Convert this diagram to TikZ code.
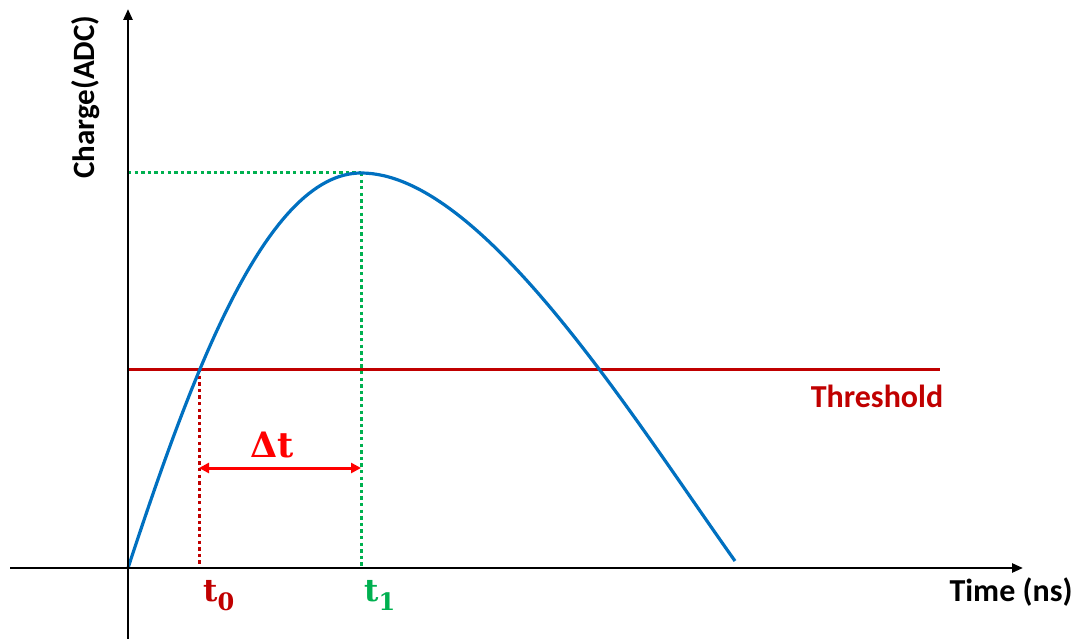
\documentclass[tikz,border=0pt]{standalone}
\usepackage{fontspec}
\setmainfont{Carlito}
\newfontfamily\lblserif{DejaVu Serif}
\usetikzlibrary{arrows.meta}
\definecolor{curveblue}{RGB}{0,112,192}
\definecolor{darkred}{RGB}{192,0,0}
\definecolor{brightred}{RGB}{255,0,0}
\definecolor{dotgreen}{RGB}{0,176,80}
\newcommand{\subdigit}[1]{\raisebox{-9pt}{\fontsize{24}{26}\selectfont #1}}
\tikzset{
  axis/.style={line width=2.5pt,-{Triangle[length=11pt,width=9pt]}},
  dotline/.style={line width=3pt,dash pattern=on 3.3pt off 3.3pt},
  lbl/.style={font=\fontsize{32}{36}\selectfont\bfseries,inner sep=0pt},
  mathlbl/.style={font=\lblserif\bfseries\fontsize{31}{35}\selectfont,inner sep=0pt}
}
\begin{document}
\begin{tikzpicture}[x=1pt,y=-1pt]
\useasboundingbox (0,0) rectangle (1086,639);
% key points
\coordinate (O) at (128,568);
\coordinate (yb) at (128,639);
\coordinate (yt) at (128,9);
\coordinate (xl) at (10,568);
\coordinate (xr) at (1023,568);
\coordinate (peak) at (361,173);
\coordinate (cross) at (199,369);
\coordinate (tend) at (940,369);
\coordinate (end) at (735,561);
\coordinate (t0b) at (199,568);
\coordinate (t1b) at (361,568);
\coordinate (ypk) at (128,173);
\coordinate (thl) at (128,369);
\coordinate (al) at (199,468);
\coordinate (ar) at (361,468);
% dotted guides
\draw[dotline,dotgreen] (ypk) -- (peak);
\draw[dotline,dotgreen] (peak) -- (t1b);
\draw[dotline,darkred] (cross) -- (t0b);
% threshold
\draw[darkred,line width=3pt] (thl) -- (tend);
% curve
\draw[curveblue,line width=3.2pt] (O) .. controls (190,380) and (265,173) .. (peak)
  .. controls (481,173) and (630,413) .. (end);
% axes
\draw[axis] (xl) -- (xr);
\draw[axis] (yb) -- (yt);
% delta t arrow
\draw[brightred,line width=3pt,{Triangle[length=10pt,width=10pt]}-{Triangle[length=10pt,width=10pt]}] (al) -- (ar);
% labels
\node[lbl,rotate=90] (ylab) at (86,97) {\fontsize{31}{35}\selectfont Charge(ADC)};
\node[lbl] (xlab) at (1011,592) {Time (ns)};
\node[lbl,text=darkred] (thr) at (877,396) {Threshold};
\node[mathlbl,text=darkred,anchor=base west] (t0) at (203,601) {t\subdigit{0}};
\node[mathlbl,text=dotgreen,anchor=base west] (t1) at (364,601) {t\subdigit{1}};
\node[mathlbl,text=brightred,anchor=base,font=\lblserif\bfseries\fontsize{35}{38}\selectfont] (dt) at (272,457) {Δt};
\end{tikzpicture}
\end{document}
